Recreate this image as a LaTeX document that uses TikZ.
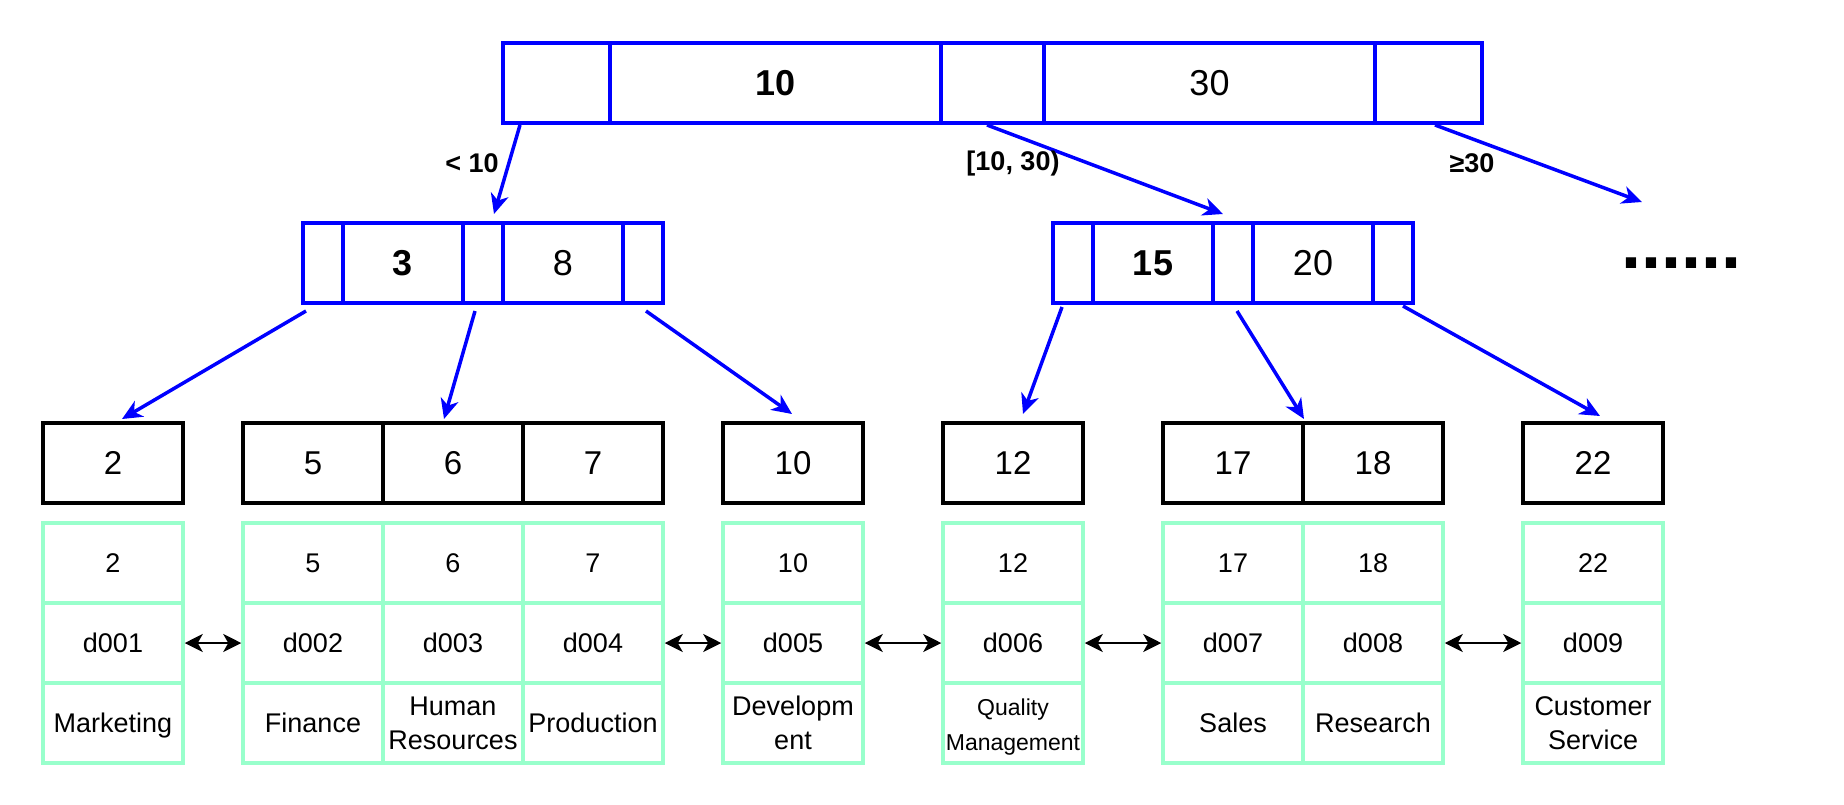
\documentclass[tikz,border=0pt]{standalone}
\usepackage{fontspec}
\setmainfont{Liberation Sans}
\usetikzlibrary{arrows.meta}
\definecolor{mint}{HTML}{99FFCC}

\begin{document}
\begin{tikzpicture}[x=1pt,y=-1pt]
        \tikzstyle{index} = [draw=blue, line width=4pt, minimum height=80pt, inner sep=0pt, font=\fontsize{36}{43}\selectfont]
        \tikzstyle{leaf} = [draw=black, line width=4pt, minimum width=140pt, minimum height=80pt, inner sep=0pt, font=\fontsize{33}{40}\selectfont]
        \tikzstyle{record} = [draw=mint, line width=3.5pt, minimum width=140pt, minimum height=80pt, inner sep=0pt, align=center, font=\fontsize{27}{34}\selectfont]
        \tikzstyle{ptr} = [draw=blue, line width=3.5pt, -{Stealth[length=20pt,width=18pt,inset=6pt]}]
        \tikzstyle{link} = [draw=black, line width=2.2pt, {Stealth[length=18pt,width=18pt,inset=5pt]}-{Stealth[length=18pt,width=18pt,inset=5pt]}]
        \tikzstyle{cond} = [inner sep=0pt, font=\bfseries\fontsize{27}{32}\selectfont]

        \useasboundingbox (0,0) rectangle (1844,804);

        % root
        \node[index, minimum width=107pt] (t1) at (556.5,83) {};
        \node[index, minimum width=331pt] (t2) at (775.5,83) {\bfseries 10};
        \node[index, minimum width=103pt] (t3) at (992.5,83) {};
        \node[index, minimum width=331pt] (t4) at (1209.5,83) {30};
        \node[index, minimum width=107pt] (t5) at (1428.5,83) {};

        % second level, left
        \node[index, minimum width=40pt] (a1) at (323,263) {};
        \node[index, minimum width=120pt] (a2) at (403,263) {\bfseries 3};
        \node[index, minimum width=40pt] (a3) at (483,263) {};
        \node[index, minimum width=120pt] (a4) at (563,263) {8};
        \node[index, minimum width=40pt] (a5) at (643,263) {};

        % second level, right
        \node[index, minimum width=40pt] (b1) at (1073,263) {};
        \node[index, minimum width=120pt] (b2) at (1153,263) {\bfseries 15};
        \node[index, minimum width=40pt] (b3) at (1233,263) {};
        \node[index, minimum width=120pt] (b4) at (1313,263) {20};
        \node[index, minimum width=40pt] (b5) at (1393,263) {};

        \node[anchor=base west, inner sep=0pt, font=\bfseries\fontsize{72}{80}\selectfont] (more) at (1621,268) {......};

        % leaf keys
        \node[leaf] (k2) at (113,463) {2};
        \node[leaf] (k5) at (313,463) {5};
        \node[leaf] (k6) at (453,463) {6};
        \node[leaf] (k7) at (593,463) {7};
        \node[leaf] (k10) at (793,463) {10};
        \node[leaf] (k12) at (1013,463) {12};
        \node[leaf] (k17) at (1233,463) {17};
        \node[leaf] (k18) at (1373,463) {18};
        \node[leaf] (k22) at (1593,463) {22};

        % leaf records
        \node[record] (v2) at (113,563) {2};
        \node[record] (i2) at (113,643) {d001};
        \node[record, text depth=0pt] (n2) at (113,723) {Marketing};

        \node[record] (v5) at (313,563) {5};
        \node[record] (i5) at (313,643) {d002};
        \node[record] (n5) at (313,723) {Finance};

        \node[record] (v6) at (453,563) {6};
        \node[record] (i6) at (453,643) {d003};
        \node[record] (n6) at (453,723) {Human\\Resources};

        \node[record] (v7) at (593,563) {7};
        \node[record] (i7) at (593,643) {d004};
        \node[record] (n7) at (593,723) {Production};

        \node[record] (v10) at (793,563) {10};
        \node[record] (i10) at (793,643) {d005};
        \node[record] (n10) at (793,723) {Developm\\ent};

        \node[record] (v12) at (1013,563) {12};
        \node[record] (i12) at (1013,643) {d006};
        \node[record, label={[align=center, yshift=-4pt, font=\fontsize{23}{35}\selectfont]center:Quality\\Management}] (n12) at (1013,723) {};

        \node[record] (v17) at (1233,563) {17};
        \node[record] (i17) at (1233,643) {d007};
        \node[record] (n17) at (1233,723) {Sales};

        \node[record] (v18) at (1373,563) {18};
        \node[record] (i18) at (1373,643) {d008};
        \node[record] (n18) at (1373,723) {Research};

        \node[record] (v22) at (1593,563) {22};
        \node[record] (i22) at (1593,643) {d009};
        \node[record] (n22) at (1593,723) {Customer\\Service};

        % pointers from the root
        \coordinate (rest) at (1642,202);
        \draw[ptr] ([xshift=-36.5pt]t1.south) -- ([xshift=11pt,yshift=7pt]a3.north);
        \draw[ptr] ([xshift=-5.5pt]t3.south) -- ([xshift=-10pt,yshift=7pt]b3.north);
        \draw[ptr] ([xshift=6.5pt]t5.south) -- (rest);

        \node[cond] (lt) at (472,163) {< 10};
        \node[cond] (mid) at (1013,164) {[10, 30)};
        \node[cond] (ge) at (1472,163) {≥30};

        % pointers to the leaves
        \draw[ptr] ([xshift=-17pt,yshift=-6pt]a1.south) -- ([xshift=9pt,yshift=2pt]k2.north);
        \draw[ptr] ([xshift=-8pt,yshift=-6pt]a3.south) -- ([xshift=-9pt,yshift=2pt]k6.north);
        \draw[ptr] ([xshift=3pt,yshift=-6pt]a5.south) -- ([xshift=-1pt,yshift=7pt]k10.north);
        \draw[ptr] ([xshift=-11pt,yshift=-2pt]b1.south) -- ([xshift=10pt,yshift=7pt]k12.north);
        \draw[ptr] ([xshift=4pt,yshift=-6pt]b3.south) -- ([xshift=3pt,yshift=2pt]k18.north west);
        \draw[ptr] ([xshift=10pt,yshift=-1pt]b5.south) -- ([xshift=7pt,yshift=5pt]k22.north);

        % leaf chain
        \draw[link] (i2.east) -- (i5.west);
        \draw[link] (i7.east) -- (i10.west);
        \draw[link] (i10.east) -- (i12.west);
        \draw[link] (i12.east) -- (i17.west);
        \draw[link] (i18.east) -- (i22.west);

\end{tikzpicture}
\end{document}
